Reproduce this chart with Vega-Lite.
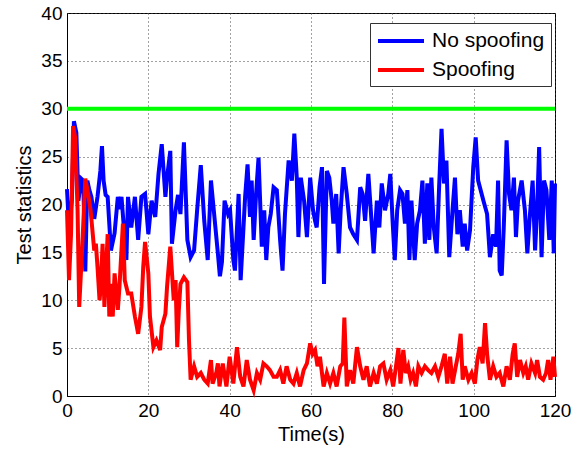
{
  "$schema": "https://vega.github.io/schema/vega-lite/v6.json",
  "width": 488,
  "height": 383,
  "autosize": {"type": "none"},
  "padding": {"left": 67, "top": 13, "right": 20, "bottom": 54},
  "background": "white",
  "config": {
    "font": "Liberation Sans",
    "view": {"stroke": "#000", "strokeWidth": 1},
    "axis": {
      "domainColor": "#000",
      "gridColor": "#444",
      "gridDash": [1, 3],
      "gridOpacity": 1,
      "ticks": false,
      "labelFlush": false,
      "labelOverlap": false,
      "labelFont": "Liberation Sans",
      "labelFontSize": 19,
      "labelColor": "#000",
      "titleFont": "Liberation Sans",
      "titleFontSize": 20,
      "titleFontWeight": "normal",
      "titleColor": "#000"
    }
  },
  "datasets": {
    "noSpoof": [
      {"t":0,"v":21.6},{"t":0.5,"v":17.5},{"t":1.2,"v":20.5},{"t":1.7,"v":28.7},{"t":2.3,"v":27.5},{"t":2.8,"v":20.4},{"t":3.5,"v":22.7},{"t":4,"v":22.5},{"t":4.5,"v":13},{"t":5,"v":22.5},{"t":5.5,"v":21.5},{"t":6,"v":20.8},{"t":6.7,"v":18.5},{"t":7.5,"v":20.8},{"t":8.2,"v":23.5},{"t":8.6,"v":26.1},{"t":9,"v":22.5},{"t":9.5,"v":21},{"t":10,"v":20.8},{"t":10.8,"v":15.2},{"t":11.7,"v":17},{"t":12.5,"v":20.8},{"t":13,"v":19.5},{"t":13.4,"v":20.8},{"t":14,"v":17.5},{"t":14.6,"v":14.2},{"t":15,"v":20.8},{"t":15.8,"v":17.6},{"t":16.7,"v":20.8},{"t":17.5,"v":16.3},{"t":18.3,"v":20.8},{"t":19.2,"v":21.1},{"t":20,"v":16.9},{"t":20.8,"v":20.4},{"t":21.7,"v":18.7},{"t":22.5,"v":23.2},{"t":23.3,"v":26.3},{"t":24.2,"v":20.8},{"t":24.6,"v":22.8},{"t":25.4,"v":25.6},{"t":25.8,"v":15.9},{"t":26.7,"v":19.4},{"t":27.3,"v":21},{"t":27.9,"v":19},{"t":28.75,"v":26.5},{"t":29.6,"v":16.3},{"t":30.4,"v":14.5},{"t":31.25,"v":15.2},{"t":32,"v":19.4},{"t":32.9,"v":24.1},{"t":33.75,"v":18.3},{"t":34.6,"v":14.2},{"t":35.4,"v":22.5},{"t":36.25,"v":18.7},{"t":37.1,"v":14.9},{"t":37.6,"v":12.5},{"t":38.1,"v":14},{"t":38.75,"v":20.4},{"t":39.6,"v":19},
      {"t":40.1,"v":19.4},{"t":40.9,"v":14.2},{"t":41.3,"v":13.1},{"t":42.2,"v":21.1},{"t":42.7,"v":12.1},{"t":43.4,"v":17.6},{"t":43.8,"v":20.8},{"t":44.4,"v":24.2},{"t":45,"v":18.7},{"t":45.4,"v":22.5},{"t":45.9,"v":16.3},{"t":46.5,"v":21.1},{"t":47.1,"v":24.9},{"t":47.9,"v":15.6},{"t":48.5,"v":19.4},{"t":49,"v":14.2},{"t":49.5,"v":17.6},{"t":50.1,"v":19},{"t":50.8,"v":21.8},{"t":51.6,"v":21.5},{"t":52.4,"v":16.3},{"t":53,"v":13.1},{"t":53.6,"v":19},{"t":54.5,"v":24.6},{"t":55.3,"v":22.5},{"t":55.9,"v":27.4},{"t":56.5,"v":22.8},{"t":56.9,"v":16.6},{"t":57.5,"v":22.8},{"t":58.3,"v":20.4},{"t":59,"v":16.6},{"t":59.8,"v":22.8},{"t":60.5,"v":19.4},{"t":61,"v":18.3},{"t":61.4,"v":17.6},{"t":62.1,"v":21.8},{"t":62.7,"v":23.9},{"t":63.2,"v":11.7},{"t":63.9,"v":23.5},{"t":64.5,"v":22.8},{"t":65.1,"v":20.4},{"t":65.5,"v":18},{"t":66.2,"v":21.1},{"t":66.8,"v":14.9},{"t":67.3,"v":19.4},{"t":68,"v":23.9},{"t":68.8,"v":21.1},{"t":69.6,"v":17.6},{"t":70.4,"v":16.9},{"t":71.3,"v":16.3},{"t":72.1,"v":21.8},{"t":72.7,"v":21.1},{"t":73.3,"v":18.3},{"t":74.1,"v":23.2},{"t":74.7,"v":19.4},{"t":75.4,"v":14.9},{"t":76.2,"v":20.4},{"t":76.8,"v":17.6},{"t":77.4,"v":22.2},{"t":78.2,"v":19.4},{"t":79,"v":21.1},
      {"t":79.5,"v":23.2},{"t":80.1,"v":18},{"t":80.6,"v":14.2},{"t":81.2,"v":19.4},{"t":81.9,"v":21.5},{"t":82.5,"v":21.1},{"t":83.1,"v":18},{"t":83.7,"v":21.5},{"t":84.2,"v":14.2},{"t":84.7,"v":20.4},{"t":85.5,"v":14.2},{"t":86.1,"v":18},{"t":86.8,"v":19.4},{"t":87.4,"v":22.5},{"t":88,"v":15.9},{"t":88.6,"v":22.2},{"t":89.1,"v":16.3},{"t":89.6,"v":22.8},{"t":90.2,"v":17.6},{"t":90.9,"v":14.9},{"t":91.5,"v":21.8},{"t":92.1,"v":27.9},{"t":92.7,"v":22.2},{"t":93.3,"v":24.6},{"t":94,"v":14.5},{"t":94.8,"v":19.4},{"t":95.4,"v":22.8},{"t":96,"v":16.9},{"t":96.6,"v":19.4},{"t":97.3,"v":15.6},{"t":97.8,"v":18},{"t":98.4,"v":15.2},{"t":99.1,"v":17.3},{"t":99.9,"v":23.9},{"t":100.5,"v":27},{"t":101.1,"v":22.5},{"t":102.4,"v":20.4},{"t":103.3,"v":19},{"t":104,"v":14.5},{"t":104.8,"v":16.9},{"t":105.5,"v":15.6},{"t":106,"v":22.5},{"t":106.4,"v":13.1},{"t":106.9,"v":12.6},{"t":107.4,"v":17.6},{"t":108.1,"v":26.7},{"t":108.7,"v":21.1},{"t":109.3,"v":19.4},{"t":109.9,"v":22.8},{"t":110.4,"v":16.6},{"t":110.9,"v":20.4},{"t":111.8,"v":22.5},{"t":112.6,"v":19.4},{"t":113.2,"v":14.9},{"t":113.8,"v":18.7},{"t":114.5,"v":22.5},{"t":115.1,"v":15.2},{"t":115.6,"v":19.4},{"t":116.1,"v":26},{"t":116.7,"v":14.5},{"t":117.3,"v":22.5},{"t":117.9,"v":21.5},{"t":118.6,"v":16.3},{"t":119.2,"v":22.5},{"t":119.7,"v":14.9},{"t":120,"v":22.2}
    ],
    "spoof": [
      {"t":0,"v":19.4},{"t":0.5,"v":12.1},{"t":1,"v":17},{"t":1.5,"v":28.2},{"t":2,"v":27},{"t":2.6,"v":19.4},{"t":3,"v":9.3},{"t":3.75,"v":15.6},{"t":4.5,"v":22.7},{"t":5.2,"v":21.1},{"t":5.8,"v":19.4},{"t":6.7,"v":15.2},{"t":7.1,"v":15.9},{"t":7.5,"v":13.5},{"t":8,"v":10},{"t":8.3,"v":11.4},{"t":8.75,"v":15.9},{"t":9.2,"v":9.3},{"t":10,"v":16.9},{"t":10.4,"v":8.3},{"t":10.8,"v":11.7},{"t":11.25,"v":8.3},{"t":11.7,"v":12.8},{"t":12.5,"v":9},{"t":12.9,"v":11.4},{"t":13.75,"v":18},{"t":14.2,"v":12.1},{"t":15,"v":10.7},{"t":15.8,"v":10.7},{"t":16.7,"v":8.3},{"t":17.5,"v":6.5},{"t":18.3,"v":9.3},{"t":18.75,"v":13.5},{"t":19.2,"v":16.1},{"t":20,"v":12.8},{"t":20.4,"v":8.3},{"t":21.25,"v":5.1},{"t":22,"v":5.8},{"t":22.9,"v":4.8},{"t":23.3,"v":7.2},{"t":24.2,"v":8.6},{"t":24.6,"v":11.4},{"t":25.4,"v":15.6},{"t":26.25,"v":10},{"t":26.7,"v":12.1},{"t":27.1,"v":5.1},{"t":27.5,"v":9},{"t":27.9,"v":11.7},{"t":28.75,"v":12.4},{"t":29.6,"v":11.9},{"t":30,"v":5.8},{"t":30.4,"v":1.7},{"t":31.25,"v":3.1},{"t":32,"v":2},{"t":32.9,"v":2.4},{"t":33.75,"v":1.7},{"t":34.6,"v":1.3},{"t":35.4,"v":3.75},{"t":35.8,"v":1.3},{"t":36.7,"v":2.4},{"t":37.1,"v":3.4},{"t":37.5,"v":1},{"t":38.3,"v":3.4},{"t":39.2,"v":1},{"t":40,"v":4.1},
      {"t":40.9,"v":1.3},{"t":41.8,"v":5.1},{"t":42.6,"v":2},{"t":43.4,"v":1},{"t":44.2,"v":3.75},{"t":45,"v":1.7},{"t":45.9,"v":0.6},{"t":46.7,"v":2.4},{"t":47.5,"v":1.7},{"t":48.3,"v":3.4},{"t":49.1,"v":3.1},{"t":49.9,"v":2.7},{"t":50.8,"v":2},{"t":51.6,"v":2},{"t":52.4,"v":2.7},{"t":53.2,"v":1.3},{"t":54,"v":3.1},{"t":54.9,"v":1.7},{"t":55.7,"v":1.3},{"t":56.5,"v":2.4},{"t":57.3,"v":1},{"t":58.2,"v":2.7},{"t":59,"v":3.4},{"t":59.8,"v":5.5},{"t":60.4,"v":4.4},{"t":61,"v":4.8},{"t":61.6,"v":3.1},{"t":62.2,"v":4.1},{"t":63.1,"v":1},{"t":63.9,"v":2.4},{"t":64.7,"v":1.3},{"t":65.5,"v":2.4},{"t":66.3,"v":1},{"t":67.2,"v":3.1},{"t":67.8,"v":3.4},{"t":68.2,"v":8.2},{"t":68.8,"v":1},{"t":69.6,"v":2.7},{"t":70.4,"v":1.3},{"t":71.3,"v":5.1},{"t":72.1,"v":3.1},{"t":72.9,"v":1.7},{"t":73.7,"v":3.1},{"t":74.5,"v":1},{"t":75.4,"v":2.4},{"t":76.2,"v":1.3},{"t":77,"v":3.1},{"t":77.8,"v":3.4},{"t":78.6,"v":1.7},{"t":79.5,"v":2.7},
      {"t":80.2,"v":1},{"t":80.9,"v":3.1},{"t":81.5,"v":5},{"t":82,"v":1.3},{"t":82.7,"v":4.8},{"t":83.3,"v":2.4},{"t":83.9,"v":3.1},{"t":84.5,"v":1.7},{"t":85.1,"v":2.4},{"t":85.8,"v":1},{"t":86.4,"v":3.1},{"t":87.2,"v":2.4},{"t":88,"v":3.1},{"t":88.8,"v":2.7},{"t":89.6,"v":2.4},{"t":90.5,"v":3.1},{"t":91.3,"v":2},{"t":92.1,"v":3.1},{"t":92.9,"v":4.4},{"t":93.5,"v":1.3},{"t":94.2,"v":4.1},{"t":94.8,"v":1.3},{"t":95.6,"v":3.1},{"t":96.2,"v":4.4},{"t":96.8,"v":6.5},{"t":97.3,"v":1.7},{"t":97.8,"v":3.1},{"t":98.7,"v":1.7},{"t":99.5,"v":2.4},{"t":100.3,"v":1.3},{"t":100.9,"v":3.75},{"t":101.5,"v":5.1},{"t":102.2,"v":3.4},{"t":102.8,"v":7.6},{"t":103.3,"v":4.4},{"t":104,"v":1.7},{"t":104.8,"v":3.1},{"t":105.6,"v":2},{"t":106.4,"v":2.4},{"t":107.3,"v":1},{"t":108.1,"v":3.1},{"t":108.9,"v":1.7},{"t":109.6,"v":4.4},{"t":110.1,"v":5.5},{"t":110.7,"v":2},{"t":111.4,"v":3.75},{"t":112.2,"v":2.4},{"t":112.8,"v":3.1},{"t":113.4,"v":1.7},{"t":114.2,"v":3.4},{"t":115.1,"v":2.4},{"t":115.6,"v":3.75},{"t":116.3,"v":2},{"t":117.1,"v":1.7},{"t":117.8,"v":2.4},{"t":118.3,"v":3.75},{"t":118.9,"v":1.7},{"t":119.6,"v":4.1},{"t":120,"v":2}
    ],
    "threshold": [{"level": 30}]
  },
  "layer": [
    {
      "data": {"name": "noSpoof"},
      "mark": {"type": "line", "strokeWidth": 4, "strokeJoin": "miter"},
      "encoding": {
        "x": {
          "field": "t", "type": "quantitative",
          "scale": {"domain": [0, 120], "nice": false},
          "axis": {"values": [0, 20, 40, 60, 80, 100, 120], "title": "Time(s)", "labelPadding": 5, "titlePadding": 4}
        },
        "y": {
          "field": "v", "type": "quantitative",
          "scale": {"domain": [0, 40], "nice": false},
          "axis": {"values": [0, 5, 10, 15, 20, 25, 30, 35, 40], "title": "Test statistics", "labelPadding": 5, "titlePadding": 6}
        },
        "color": {
          "datum": "No spoofing", "type": "nominal",
          "scale": {"domain": ["No spoofing", "Spoofing"], "range": ["#0000ff", "#ff0000"]},
          "legend": {
            "orient": "none", "legendX": 303, "legendY": 10, "direction": "vertical",
            "title": null, "fillColor": "white", "strokeColor": "#333", "padding": 6,
            "symbolType": "M-1,0H3.6", "symbolSize": 400, "symbolStrokeWidth": 4,
            "labelFont": "Liberation Sans", "labelFontSize": 21, "labelColor": "#000",
            "labelOffset": 32, "rowPadding": 7
          }
        }
      }
    },
    {
      "data": {"name": "spoof"},
      "mark": {"type": "line", "strokeWidth": 4, "strokeJoin": "miter"},
      "encoding": {
        "x": {"field": "t", "type": "quantitative"},
        "y": {"field": "v", "type": "quantitative"},
        "color": {"datum": "Spoofing", "type": "nominal"}
      }
    },
    {
      "data": {"name": "threshold"},
      "mark": {"type": "rule", "color": "#00ff00", "strokeWidth": 4},
      "encoding": {"y": {"field": "level", "type": "quantitative"}}
    }
  ]
}
